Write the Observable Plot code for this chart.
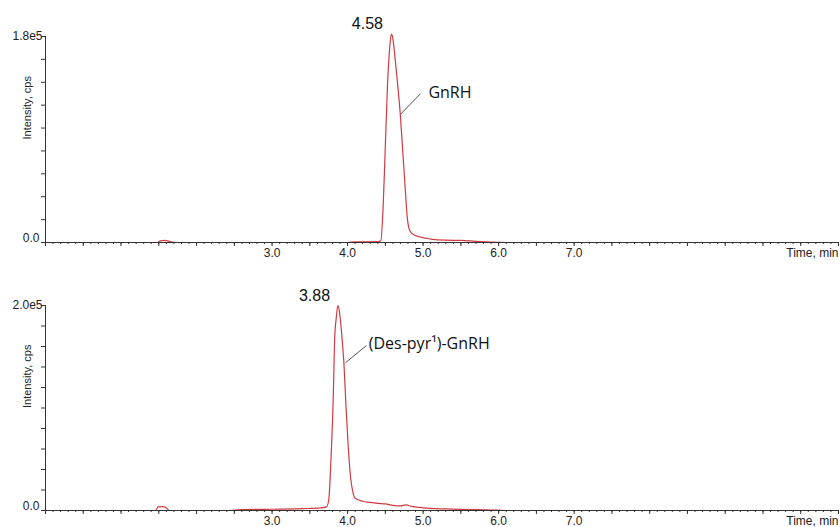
<!DOCTYPE html>
<html>
<head>
<meta charset="utf-8">
<script src="https://cdn.jsdelivr.net/npm/d3@7"></script>
<script src="https://cdn.jsdelivr.net/npm/@observablehq/plot@0.6"></script>
<style>
  html, body { margin: 0; padding: 0; background: white; }
  svg { display: block; }
</style>
</head>
<body>
<script>
// ---- data ----
const gnrhTime = [0, 1.48, 1.52, 1.58, 1.65, 1.72, 4.0, 4.1, 4.4, 4.44, 4.47, 4.50, 4.53, 4.56, 4.58, 4.60, 4.63, 4.66, 4.70, 4.73, 4.76, 4.79, 4.82, 4.87, 4.95, 5.1, 5.3, 5.5, 5.7, 6.0, 6.1, 10.5];
const gnrhIntensity = [0, 0, 1500, 1800, 800, 0, 0, 500, 700, 1500, 30000, 85000, 140000, 172000, 182000, 178000, 160000, 140000, 110000, 80000, 50000, 22000, 11000, 7000, 5000, 3000, 2000, 1800, 1000, 200, 0, 0];

const desTime = [0, 1.46, 1.49, 1.55, 1.60, 1.64, 2.4, 2.6, 3.0, 3.4, 3.65, 3.72, 3.75, 3.78, 3.81, 3.83, 3.85, 3.87, 3.89, 3.91, 3.93, 3.95, 3.98, 4.01, 4.04, 4.07, 4.10, 4.2, 4.3, 4.4, 4.5, 4.6, 4.7, 4.77, 4.85, 5.0, 5.3, 5.6, 6.0, 6.1, 10.5];
const desIntensity = [0, 0, 3500, 3800, 2500, 0, 0, 1000, 1200, 1800, 2500, 3500, 10000, 50000, 110000, 170000, 188000, 200000, 195000, 182000, 165000, 145000, 100000, 60000, 32000, 18000, 12000, 9000, 8000, 7000, 6500, 5000, 4500, 5500, 4000, 2500, 1500, 1000, 300, 0, 0];

const xLabelTicks = [3, 4, 5, 6, 7];
const panels = [
  {time: gnrhTime, intensity: gnrhIntensity, yMax: 180000, yMaxLabel: "1.8e5",
   peakTime: 4.58, peakValue: 182000, peakLabel: "4.58",
   name: "GnRH", leader: {t1: 4.70, v1: 112000, t2: 4.965, v2: 130000}, nameAt: {t: 5.07, v: 131000},
   height: 263, marginTop: 36, marginBottom: 21},
  {time: desTime, intensity: desIntensity, yMax: 200000, yMaxLabel: "2.0e5",
   peakTime: 3.88, peakValue: 200000, peakLabel: "3.88",
   name: "(Des-pyr¹)-GnRH", leader: {t1: 3.97, v1: 144000, t2: 4.25, v2: 161000}, nameAt: {t: 4.28, v: 163000},
   height: 264, marginTop: 42, marginBottom: 17}
];

const red = "#cf3b42";
const axisColor = "#333";

for (const p of panels) {
  const rows = p.time.map((t, i) => ({t, v: p.intensity[i]}));
  const chart = Plot.plot({
    width: 840,
    height: p.height,
    marginLeft: 45,
    marginRight: 2,
    marginTop: p.marginTop,
    marginBottom: p.marginBottom,
    style: {fontFamily: "Liberation Sans, Arial, sans-serif", fontSize: "12px", background: "white", color: axisColor},
    x: {domain: [0, 10.5]},
    y: {domain: [0, p.yMax]},
    marks: [
      // trace
      Plot.line(rows, {x: "t", y: "v", stroke: red, strokeWidth: 1.2, curve: "monotone-x"}),
      // x axis: minor ticks, major ticks, labels
      Plot.axisX(d3.range(0, 10.501, 0.1), {tickSize: 2, fill: "none", label: null, stroke: axisColor}),
      Plot.axisX(d3.range(0, 10.501, 0.5), {tickSize: 4, fill: "none", label: null, stroke: axisColor}),
      Plot.axisX(xLabelTicks, {tickSize: 0, tickPadding: 6, tickFormat: d => d.toFixed(1), label: null, fill: "#222"}),
      // y axis ticks
      Plot.axisY(d3.range(0, p.yMax + 1, 20000), {tickSize: 4, fill: "none", label: null, stroke: axisColor}),
      Plot.text([p.yMax], {y: d => d, frameAnchor: "left", textAnchor: "end", dx: -3, text: () => p.yMaxLabel, fill: "#222"}),
      Plot.text([0], {y: d => d, frameAnchor: "left", textAnchor: "end", dx: -6, dy: -4, text: () => "0.0", fill: "#222"}),
      Plot.text(["Intensity, cps"], {frameAnchor: "left", rotate: -90, dx: -18, fontSize: 11, fill: "#222"}),
      Plot.text(["Time, min"], {frameAnchor: "bottom-right", textAnchor: "end", lineAnchor: "top", dy: 6, fill: "#222"}),
      Plot.ruleY([0], {stroke: axisColor}),
      Plot.ruleX([0], {stroke: axisColor}),
      // annotations
      Plot.text([p], {x: "peakTime", y: "peakValue", text: "peakLabel", dx: -24, dy: -10, fontSize: 16, fontFamily: "Liberation Sans, Arial", fill: "#111"}),
      Plot.link([p.leader], {x1: "t1", y1: "v1", x2: "t2", y2: "v2", stroke: "#555", strokeWidth: 1}),
      Plot.text([p.nameAt], {x: "t", y: "v", text: () => p.name, textAnchor: "start", fontSize: 16, fontFamily: "Open Sans, sans-serif", fill: "#111"})
    ]
  });
  document.body.appendChild(chart);
}
</script>
</body>
</html>
